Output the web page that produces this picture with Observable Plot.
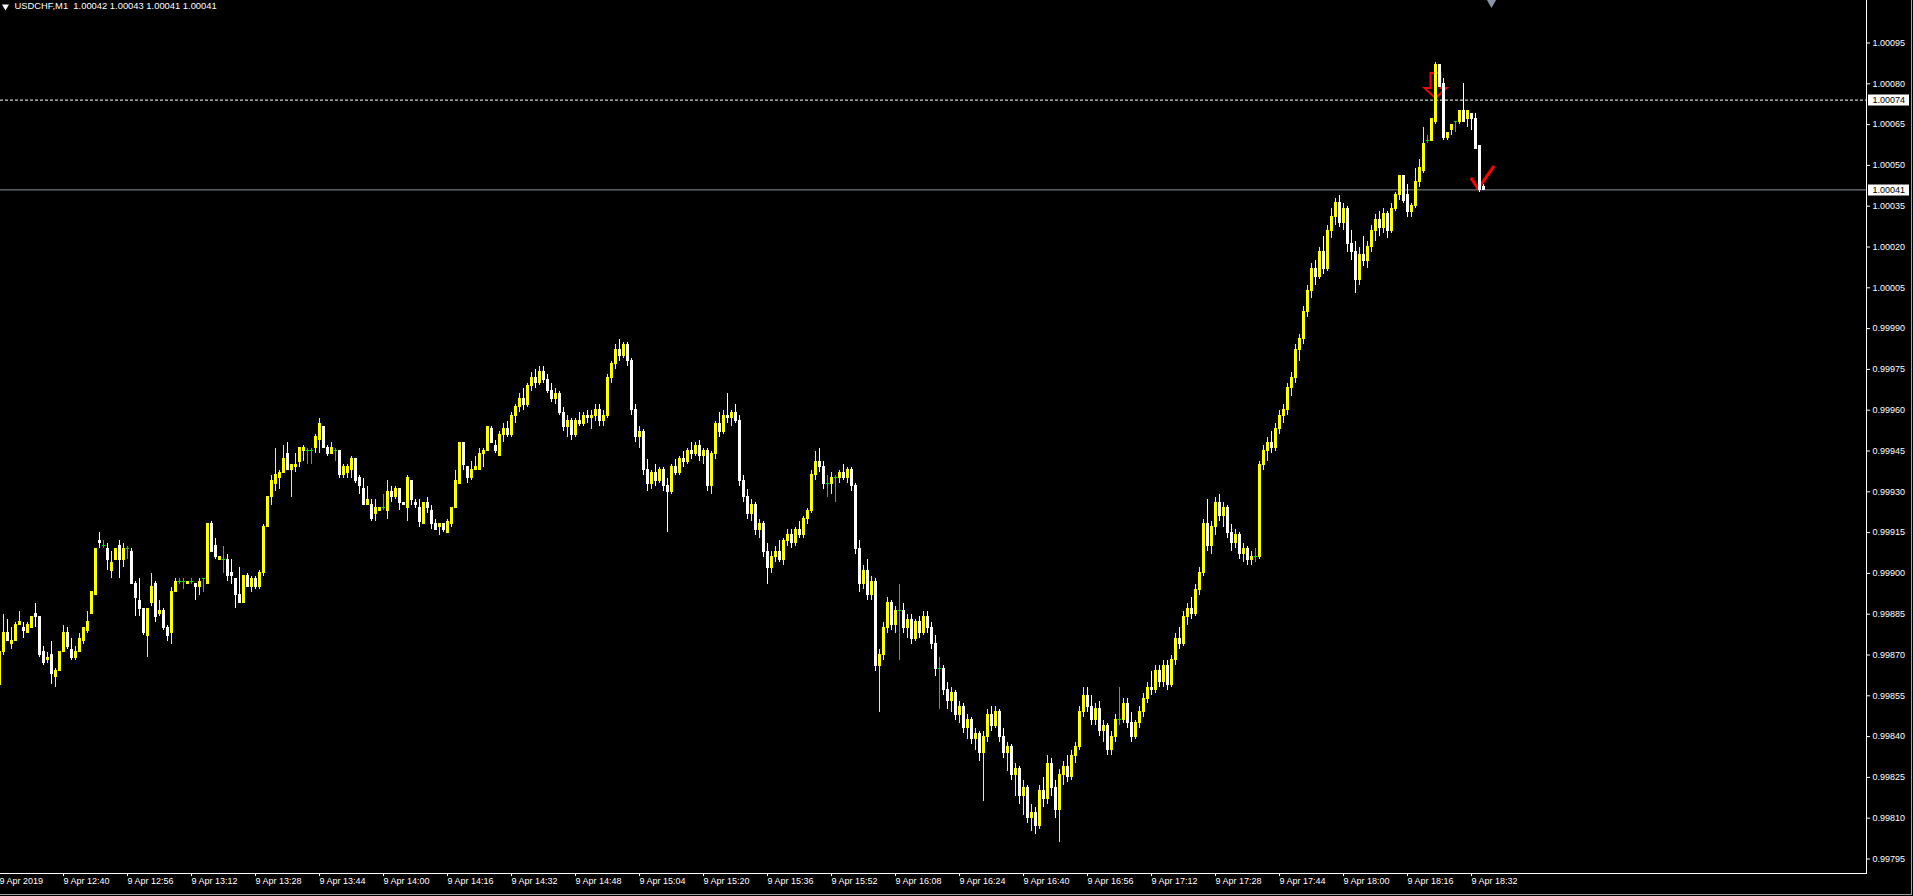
<!DOCTYPE html>
<html><head><meta charset="utf-8">
<script src="https://cdn.jsdelivr.net/npm/d3@7"></script>
<script src="https://cdn.jsdelivr.net/npm/@observablehq/plot@0.6"></script>
<style>
html,body{margin:0;padding:0;background:#000;overflow:hidden;}
#chart svg{display:block;}
</style></head><body><div id="chart"></div>
<script>
// ---- data (prices in points: price = value / 100000), bars are M1, first bar 9 Apr 12:24 ----
const symbolName = "USDCHF,M1";
const pointsPerUnit = 100000;
const openPts = [
99859,99871,99878,99874,99875,99881,99880,99878,99880,99885,
99884,99871,99868,99870,99862,99864,99871,99878,99872,99869,
99871,99875,99879,99885,99892,99912,99910,99909,99901,99905,
99910,99905,99909,99908,99896,99890,99887,99877,99889,99896,
99885,99886,99880,99878,99893,99897,99897,99896,99897,99896,
99895,99898,99896,99918,99910,99905,99905,99905,99900,99898,
99892,99889,99899,99895,99898,99895,99900,99917,99928,99933,
99935,99937,99944,99938,99939,99941,99945,99945,99945,99946,
99949,99954,99946,99944,99945,99945,99936,99937,99938,99942,
99935,99931,99925,99925,99922,99923,99924,99923,99930,99928,
99931,99926,99924,99934,99926,99924,99918,99926,99923,99918,
99917,99918,99915,99918,99924,99933,99948,99939,99935,99938,
99938,99944,99945,99953,99947,99943,99951,99953,99951,99958,
99961,99964,99962,99969,99972,99970,99974,99971,99967,99964,
99966,99959,99954,99956,99951,99956,99955,99958,99957,99958,
99960,99956,99958,99972,99977,99982,99980,99984,99978,99960,
99950,99952,99938,99933,99937,99934,99938,99932,99930,99939,
99937,99942,99941,99945,99944,99947,99943,99945,99932,99944,
99955,99952,99958,99957,99959,99956,99934,99928,99922,99925,
99916,99918,99908,99902,99906,99908,99905,99912,99914,99911,
99916,99914,99920,99923,99936,99941,99939,99933,99933,99935,
99935,99937,99935,99938,99932,99909,99896,99901,99892,99897,
99866,99870,99880,99889,99881,99886,99886,99880,99883,99876,
99882,99878,99884,99880,99874,99865,99865,99857,99853,99856,
99848,99851,99843,99846,99839,99841,99834,99840,99848,99844,
99849,99840,99834,99836,99826,99828,99818,99821,99810,99812,
99807,99820,99817,99830,99821,99813,99826,99829,99825,99833,
99836,99849,99855,99851,99846,99850,99842,99844,99835,99840,
99846,99846,99852,99845,99840,99845,99849,99854,99858,99857,
99864,99860,99866,99859,99868,99876,99874,99884,99887,99885,
99894,99900,99918,99910,99917,99926,99921,99924,99915,99911,
99914,99907,99909,99905,99906,99906,99940,99945,99948,99946,
99953,99958,99960,99968,99972,99982,99986,99996,100004,100012,
100009,100018,100012,100026,100031,100036,100029,100034,100021,100018,
100008,100017,100015,100020,100026,100030,100027,100032,100026,100034,
100039,100046,100039,100033,100035,100044,100048,100059,100059,100066,
100087,100080,100060,100063,100066,100066,100070,100067,100069,100067,
100057,100042];
const highPts = [
99872,99885,99883,99880,99882,99886,99882,99882,99884,99889,
99884,99873,99871,99875,99865,99871,99881,99880,99876,99873,
99878,99880,99886,99893,99909,99915,99912,99911,99908,99909,
99912,99911,99910,99909,99897,99898,99887,99887,99900,99897,
99890,99887,99881,99895,99898,99898,99898,99897,99898,99896,
99898,99898,99918,99919,99913,99906,99910,99907,99905,99898,
99902,99899,99900,99899,99899,99901,99918,99928,99936,99946,
99938,99947,99948,99940,99944,99946,99947,99946,99946,99951,
99957,99954,99947,99948,99946,99945,99940,99940,99943,99942,
99936,99935,99932,99927,99927,99924,99929,99934,99932,99932,
99931,99926,99936,99934,99927,99927,99926,99928,99925,99920,
99918,99918,99920,99924,99938,99948,99948,99939,99941,99943,
99946,99946,99954,99954,99949,99952,99955,99956,99959,99962,
99966,99968,99970,99974,99975,99976,99976,99973,99970,99968,
99967,99961,99958,99957,99957,99959,99959,99960,99960,99962,
99962,99960,99973,99978,99984,99986,99985,99985,99979,99962,
99954,99953,99942,99938,99940,99939,99939,99935,99940,99942,
99943,99945,99946,99948,99948,99949,99946,99946,99945,99956,
99959,99960,99966,99960,99962,99958,99936,99931,99927,99926,
99920,99919,99911,99908,99910,99912,99913,99916,99916,99917,
99919,99921,99924,99938,99945,99946,99941,99936,99937,99936,
99938,99940,99939,99939,99933,99912,99903,99905,99899,99898,
99872,99882,99891,99890,99888,99896,99889,99885,99885,99883,
99884,99886,99886,99882,99877,99869,99866,99860,99858,99857,
99853,99852,99848,99847,99843,99842,99842,99850,99851,99851,
99850,99843,99838,99837,99830,99829,99824,99822,99815,99814,
99822,99825,99833,99832,99824,99828,99831,99833,99835,99838,
99851,99858,99858,99855,99852,99853,99846,99845,99842,99848,
99858,99854,99854,99849,99846,99851,99856,99860,99864,99866,
99866,99868,99868,99870,99878,99880,99886,99889,99891,99896,
99902,99920,99927,99919,99928,99929,99926,99925,99918,99916,
99915,99911,99910,99908,99909,99941,99947,99950,99952,99955,
99960,99962,99970,99974,99984,99988,99998,100006,100014,100015,
100020,100024,100028,100034,100038,100039,100036,100035,100026,100022,
100020,100024,100022,100028,100032,100033,100034,100033,100036,100040,
100046,100046,100043,100036,100049,100052,100064,100061,100067,100088,
100087,100082,100062,100065,100066,100070,100080,100070,100069,100069,
100057,100043];
const lowPts = [
99857,99870,99875,99872,99875,99881,99876,99878,99880,99880,
99869,99866,99867,99859,99858,99864,99871,99872,99868,99868,
99871,99874,99878,99885,99892,99909,99909,99901,99898,99905,
99898,99902,99905,99896,99884,99884,99877,99869,99888,99882,
99884,99879,99875,99874,99893,99896,99894,99896,99896,99890,
99892,99893,99896,99908,99905,99905,99900,99897,99896,99887,
99889,99889,99895,99893,99894,99894,99899,99917,99925,99930,
99931,99937,99938,99928,99937,99939,99941,99940,99940,99944,
99944,99946,99943,99944,99941,99935,99935,99935,99935,99933,
99929,99925,99925,99919,99919,99923,99923,99920,99926,99927,
99923,99925,99919,99925,99924,99917,99918,99922,99916,99916,
99914,99915,99915,99917,99924,99933,99938,99933,99934,99938,
99938,99939,99945,99948,99944,99943,99948,99950,99950,99955,
99959,99960,99961,99967,99968,99969,99970,99966,99963,99962,
99958,99952,99950,99949,99950,99954,99954,99955,99953,99956,
99954,99954,99957,99970,99975,99978,99979,99976,99958,99948,
99946,99936,99930,99931,99932,99933,99930,99915,99929,99936,
99936,99939,99940,99942,99943,99941,99940,99930,99929,99942,
99950,99951,99955,99954,99955,99932,99926,99920,99919,99914,
99913,99906,99896,99900,99904,99904,99903,99910,99909,99910,
99913,99913,99918,99922,99934,99937,99931,99928,99929,99926,
99933,99934,99933,99930,99907,99893,99894,99890,99890,99864,
99849,99868,99878,99879,99878,99868,99878,99876,99874,99875,
99876,99877,99878,99872,99862,99850,99855,99850,99849,99846,
99845,99841,99839,99837,99835,99831,99816,99838,99842,99843,
99838,99832,99827,99824,99818,99815,99811,99808,99805,99804,
99806,99814,99815,99818,99810,99801,99822,99823,99824,99830,
99835,99847,99849,99844,99844,99840,99838,99833,99833,99838,
99844,99845,99843,99838,99839,99843,99847,99852,99855,99856,
99858,99858,99857,99858,99866,99872,99873,99881,99883,99884,
99892,99899,99908,99907,99914,99919,99917,99913,99908,99909,
99905,99904,99903,99903,99904,99905,99938,99941,99944,99945,
99951,99955,99958,99965,99970,99978,99984,99994,100001,100006,
100008,100010,100011,100023,100028,100027,100026,100018,100015,100003,
100006,100013,100012,100018,100022,100024,100025,100023,100025,100033,
100037,100036,100031,100031,100034,100042,100047,100058,100059,100065,
100079,100059,100059,100061,100062,100065,100066,100064,100063,100056,
100040,100041];
const closePts = [
99871,99878,99875,99875,99881,99882,99879,99881,99884,99884,
99870,99867,99869,99863,99864,99871,99878,99873,99869,99871,
99876,99880,99882,99893,99909,99911,99910,99905,99904,99909,
99905,99909,99909,99896,99891,99887,99878,99887,99895,99884,
99886,99880,99877,99893,99897,99897,99897,99897,99897,99895,
99897,99898,99918,99908,99906,99906,99905,99899,99899,99892,
99889,99899,99895,99898,99895,99900,99917,99928,99934,99936,
99937,99942,99938,99940,99940,99946,99946,99945,99945,99950,
99955,99946,99944,99946,99945,99936,99939,99939,99942,99934,
99932,99925,99927,99920,99924,99924,99924,99930,99928,99931,
99926,99925,99935,99927,99925,99919,99926,99924,99918,99916,
99918,99916,99919,99924,99934,99948,99940,99935,99938,99939,
99944,99945,99954,99948,99945,99951,99953,99951,99958,99961,
99964,99962,99969,99972,99970,99974,99971,99967,99964,99966,
99959,99954,99956,99951,99956,99955,99958,99957,99958,99960,
99956,99958,99972,99977,99982,99980,99984,99978,99960,99950,
99952,99938,99933,99937,99934,99938,99932,99930,99939,99937,
99942,99941,99945,99944,99947,99943,99945,99932,99944,99955,
99952,99958,99957,99959,99956,99934,99928,99922,99925,99916,
99918,99908,99902,99906,99908,99905,99912,99914,99911,99916,
99914,99920,99923,99936,99941,99939,99933,99933,99935,99935,
99937,99935,99938,99932,99909,99896,99901,99892,99897,99866,
99870,99880,99889,99881,99886,99886,99880,99883,99876,99882,
99878,99884,99880,99874,99865,99865,99857,99853,99856,99848,
99851,99843,99846,99839,99841,99834,99840,99848,99844,99849,
99840,99834,99836,99826,99828,99818,99821,99810,99812,99807,
99820,99817,99830,99821,99813,99826,99829,99825,99833,99836,
99849,99855,99851,99846,99850,99842,99844,99835,99840,99846,
99846,99852,99845,99840,99845,99849,99854,99858,99857,99864,
99860,99866,99859,99868,99876,99874,99884,99887,99885,99894,
99900,99918,99910,99917,99926,99921,99924,99915,99911,99914,
99907,99909,99905,99906,99906,99940,99945,99948,99946,99953,
99958,99960,99968,99972,99982,99986,99996,100004,100012,100009,
100018,100012,100026,100031,100036,100029,100034,100021,100018,100008,
100017,100015,100020,100026,100030,100027,100032,100026,100034,100039,
100046,100037,100033,100035,100044,100049,100058,100059,100067,100087,
100079,100060,100062,100065,100066,100070,100066,100070,100067,100056,
100041,100041];

// time axis: bar index of each labelled tick and its label
const timeTickIndex = [0,16,32,48,64,80,96,112,128,144,160,176,192,208,224,240,256,272,288,304,320,336,352,368];
const timeTickLabels = ["9 Apr 2019","9 Apr 12:40","9 Apr 12:56","9 Apr 13:12","9 Apr 13:28","9 Apr 13:44","9 Apr 14:00","9 Apr 14:16","9 Apr 14:32","9 Apr 14:48","9 Apr 15:04","9 Apr 15:20","9 Apr 15:36","9 Apr 15:52","9 Apr 16:08","9 Apr 16:24","9 Apr 16:40","9 Apr 16:56","9 Apr 17:12","9 Apr 17:28","9 Apr 17:44","9 Apr 18:00","9 Apr 18:16","9 Apr 18:32"];
// price axis ticks
const priceTicks = [0.99795,0.99810,0.99825,0.99840,0.99855,0.99870,0.99885,0.99900,0.99915,0.99930,0.99945,0.99960,0.99975,0.99990,1.00005,1.00020,1.00035,1.00050,1.00065,1.00080,1.00095];
const priceDomain = [0.99795, 1.00095];
// horizontal lines: current bid and the order level
const bidPrice = 1.00041;
const orderPrice = 1.00074;
// trade markers (bar index, price)
const sellMarker = [{index: 359, price: 1.00074}];
const closeMarker = [{index: 370, price: 1.00041}];
const chartShiftIndex = [373];

// ---- styles ----
const bullColor = "#ffff00", bearColor = "#ffffff", dojiColor = "#00e000";
const markerColor = "#ff0000", bidColor = "#8a96a3";

const bars = openPts.map((o, i) => ({
  i, o: o / pointsPerUnit, h: highPts[i] / pointsPerUnit,
  l: lowPts[i] / pointsPerUnit, c: closePts[i] / pointsPerUnit
}));
const colorOf = d => d.c > d.o ? bullColor : d.c < d.o ? bearColor : dojiColor;
const last = bars[bars.length - 1];
const titleText = symbolName + "\u00a0 " + [last.o, last.h, last.l, last.c].map(v => v.toFixed(5)).join(" ");

const arrowSymbol = {draw(ctx) {
  ctx.moveTo(0, 0); ctx.lineTo(-11, -10); ctx.lineTo(-5, -10); ctx.lineTo(-5, -25);
  ctx.lineTo(5, -25); ctx.lineTo(5, -10); ctx.lineTo(11, -10); ctx.closePath();
}};
const checkSymbol = {draw(ctx) {
  ctx.moveTo(-7, -11); ctx.lineTo(0, 0); ctx.lineTo(16, -23);
}};

const chart = Plot.plot({
  width: 1913, height: 896,
  marginLeft: 0, marginTop: 0, marginRight: 47, marginBottom: 23,
  style: {background: "#000", color: "#fff", fontFamily: "'Liberation Sans', Arial, sans-serif", fontSize: "9px"},
  x: {domain: [0, 371], range: [-1, 1483]},
  y: {domain: priceDomain, range: [858.5, 42.5]},
  color: {type: "identity"},
  marks: [
    Plot.frame({stroke: "#a0a0a0", insetLeft: -3, insetTop: -3, insetRight: -45, insetBottom: -21}),
    Plot.frame({stroke: "#ffffff", insetLeft: -3, insetTop: -3}),
    Plot.axisY({anchor: "right", ticks: priceTicks, tickFormat: d => d.toFixed(5), tickSize: 3, tickPadding: 3, color: "#ffffff", label: null, fontSize: 9}),
    Plot.axisX({anchor: "bottom", ticks: timeTickIndex, tickFormat: d => timeTickLabels[timeTickIndex.indexOf(d)], tickSize: 3, tickPadding: 1, textAnchor: "start", color: "#ffffff", label: null, fontSize: 9}),
    Plot.ruleY([orderPrice], {stroke: "#ffffff", strokeDasharray: "3,2"}),
    Plot.ruleY([bidPrice], {stroke: bidColor}),
    Plot.ruleY([bidPrice, orderPrice], {stroke: "#ffffff", strokeWidth: 11, insetLeft: 1868, insetRight: -43}),
    Plot.text([bidPrice, orderPrice], {y: d => d, text: d => d.toFixed(5), frameAnchor: "right", dx: 6, textAnchor: "start", fill: "#000000", fontSize: 9}),
    Plot.dot(sellMarker, {x: "index", y: "price", symbol: arrowSymbol, r: 5, stroke: markerColor, strokeWidth: 2, fill: "none", dy: -2}),
    Plot.dot(closeMarker, {x: "index", y: "price", symbol: checkSymbol, r: 5, stroke: markerColor, strokeWidth: 3, fill: "none", dx: -1.5, dy: -1}),
    Plot.ruleX(bars, {x: "i", y1: "l", y2: "h", stroke: colorOf, shapeRendering: "crispEdges"}),
    Plot.rect(bars, {x1: d => d.i - 0.5, x2: d => d.i + 0.5, y1: d => Math.min(d.o, d.c), y2: d => Math.max(d.o, d.c),
      insetLeft: 1, insetTop: -0.5, insetBottom: -0.5, fill: colorOf, shapeRendering: "crispEdges"}),
    Plot.dot(chartShiftIndex, {x: d => d, frameAnchor: "top", symbol: "triangle", rotate: 180, r: 3.5, fill: "#8a96a8", dy: 2}),
    Plot.dot([0], {frameAnchor: "top-left", symbol: "triangle", rotate: 180, r: 2.6, fill: "#ffffff", dx: 5, dy: 6}),
    Plot.text([titleText], {frameAnchor: "top-left", dx: 14, dy: 2, lineAnchor: "top", textAnchor: "start", fill: "#ffffff", fontSize: 9.4})
  ]
});
document.getElementById("chart").appendChild(chart);
</script>
</body></html>
